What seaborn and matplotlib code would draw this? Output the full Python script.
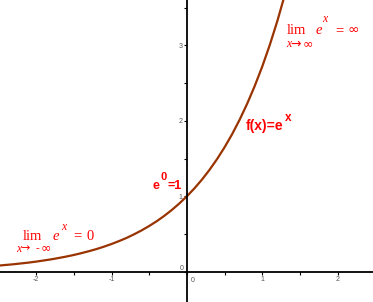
import numpy as np
import pandas as pd
import matplotlib
matplotlib.use("Agg")
import matplotlib.pyplot as plt
import seaborn as sns
from matplotlib.ticker import FixedLocator, FixedFormatter

# ---- data (f(x) = e^x) ----
x_vals = [-2.5, -2.4, -2.3, -2.2, -2.1, -2.0, -1.9, -1.8, -1.7, -1.6,
          -1.5, -1.4, -1.3, -1.2, -1.1, -1.0, -0.9, -0.8, -0.7, -0.6,
          -0.5, -0.4, -0.3, -0.2, -0.1, 0.0, 0.1, 0.2, 0.3, 0.4,
          0.5, 0.6, 0.7, 0.8, 0.9, 1.0, 1.1, 1.2, 1.3]
y_vals = [0.082, 0.091, 0.100, 0.111, 0.122, 0.135, 0.150, 0.165, 0.183, 0.202,
          0.223, 0.247, 0.273, 0.301, 0.333, 0.368, 0.407, 0.449, 0.497, 0.549,
          0.607, 0.670, 0.741, 0.819, 0.905, 1.000, 1.105, 1.221, 1.350, 1.492,
          1.649, 1.822, 2.014, 2.226, 2.460, 2.718, 3.004, 3.320, 3.669]
x_ticks = [-2, -1, 0, 1, 2]
x_tick_labels = ["-2", "-1", "", "1", "2"]
y_ticks = [0, 1, 2, 3]
y_tick_labels = ["", "1", "2", "3"]
x_minor = [-1.5, -0.5, 0.5, 1.5]
y_minor = [0.5, 1.5, 2.5, 3.5]

sns.set_theme(style="white")
plt.rcParams["font.family"] = ["Liberation Sans", "DejaVu Sans"]

W, H = 373, 302
fig = plt.figure(figsize=(W / 100, H / 100), dpi=100)
ax = fig.add_axes([0, 0, 1, 1])
ax.set_facecolor("white")

df = pd.DataFrame({"x": x_vals, "y": y_vals})
sns.lineplot(data=df, x="x", y="y", ax=ax, color="#993300", linewidth=1.6,
             sort=False, estimator=None)

ax.set_xlim(-2.48, 2.47)
ax.set_ylim(-0.40, 3.60)
ax.set_xlabel("")
ax.set_ylabel("")

for s in ["top", "right"]:
    ax.spines[s].set_visible(False)
for s in ["left", "bottom"]:
    ax.spines[s].set_position(("data", 0))
    ax.spines[s].set_color("black")
    ax.spines[s].set_linewidth(1.3)

ax.xaxis.set_major_locator(FixedLocator(x_ticks))
ax.xaxis.set_major_formatter(FixedFormatter(x_tick_labels))
ax.yaxis.set_major_locator(FixedLocator(y_ticks))
ax.yaxis.set_major_formatter(FixedFormatter(y_tick_labels))
ax.xaxis.set_minor_locator(FixedLocator(x_minor))
ax.yaxis.set_minor_locator(FixedLocator(y_minor))
ax.tick_params(which="both", direction="out", length=2, width=0.8,
               color="black", labelsize=5, labelcolor="#555555", pad=1,
               bottom=True, left=True)
ax.tick_params(which="minor", length=2)


def px(x, y):
    return x / W, 1 - y / H


serif = ["Liberation Serif", "DejaVu Serif"]
sans = ["Liberation Sans", "DejaVu Sans"]
dsans = ["DejaVu Sans"]
red = "#ff0000"


def t(x, y, s, size, family, **kw):
    fig.text(*px(x, y), s, fontsize=size, color=red, family=family,
             va="baseline", ha="left", **kw)


# zero tick labels
fig.text(*px(183.8, 270.5), "0", fontsize=5, color="#555555", ha="right",
         va="baseline", family=sans)
fig.text(*px(190.5, 281.5), "0", fontsize=5, color="#555555", ha="left",
         va="baseline", family=sans)

# lower-left limit
t(22.3, 239.5, "lim", 10.5, serif)
t(53, 239.5, "e", 10.5, serif, style="italic")
t(60.8, 230.5, "x", 8.5, serif, style="italic")
t(73, 239.5, "=", 10.5, serif)
t(86.8, 239.5, "0", 10.5, serif)
t(16.3, 251.5, "x", 8.5, serif, style="italic")
t(20.3, 251.5, "\u2192", 8, dsans)
t(35.5, 251.5, "-", 8, serif)
t(40.5, 251.5, "\u221e", 9, dsans)

# upper-right limit
t(286.8, 34, "lim", 10.5, serif)
t(316, 34, "e", 10.5, serif, style="italic")
t(322.5, 22.3, "x", 8.5, serif, style="italic")
t(334.8, 34, "=", 10.5, serif)
t(347.5, 34, "\u221e", 10, dsans)
t(285.8, 47.3, "x", 8.5, serif, style="italic")
t(289.8, 47.3, "\u2192", 9, dsans)
t(302.5, 47.3, "\u221e", 9, dsans)

# f(x)=e^x
t(246, 130, "f(x)=e", 10, sans, fontweight="bold")
t(285.3, 121, "x", 8.5, sans, fontweight="bold")

# e^0 = 1
t(152.5, 189, "e", 9, sans, fontweight="bold")
t(160.5, 180.5, "0", 8, sans, fontweight="bold")
t(167, 189, "=1", 9, sans, fontweight="bold")

fig.savefig("out.png", dpi=100, facecolor="white")
